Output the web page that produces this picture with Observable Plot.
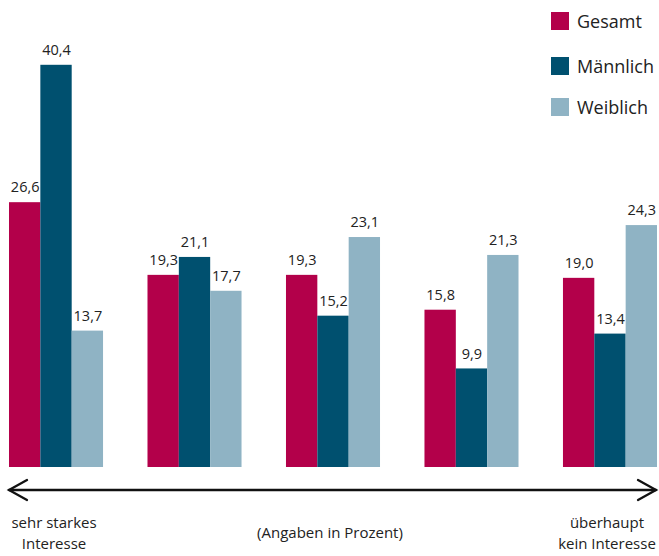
<!DOCTYPE html>
<html><head><meta charset="utf-8">
<script src="https://cdn.jsdelivr.net/npm/d3@7"></script>
<script src="https://cdn.jsdelivr.net/npm/@observablehq/plot@0.6"></script>
<style>
body{margin:0;background:#fff;font-family:"Open Sans","Noto Sans",sans-serif;color:#222}
#wrap{position:relative;width:659px;height:556px;overflow:hidden}
#chart{position:absolute;left:0;top:0}
.lg{position:absolute;left:551px;display:flex;align-items:center;font-size:18px;color:#222;line-height:22px}
.lg span.sw{display:inline-block;width:18px;height:18px;margin-right:8px}
.lab{position:absolute;font-size:15px;text-align:center;line-height:21px;color:#222;white-space:nowrap}
</style></head><body><div id="wrap"><div id="chart"></div></div>
<script>
const groups = ["1", "2", "3", "4", "5"];
const series = ["Gesamt", "Männlich", "Weiblich"];
const gesamt = [26.6, 19.3, 19.3, 15.8, 19.0];
const maennlich = [40.4, 21.1, 15.2, 9.9, 13.4];
const weiblich = [13.7, 17.7, 23.1, 21.3, 24.3];
const colors = ["#b3004a", "#00506f", "#8fb3c4"];
const leftLabel = ["sehr starkes", "Interesse"];
const rightLabel = ["überhaupt", "kein Interesse"];
const midLabel = "(Angaben in Prozent)";

const values = [gesamt, maennlich, weiblich];
const data = [];
groups.forEach((g, i) => series.forEach((s, j) => data.push({group: g, series: s, value: values[j][i]})));
const fmt = v => d3.format(".1f")(v).replace(".", ",");

const chart = Plot.plot({
  width: 659,
  height: 470,
  marginLeft: 9,
  marginRight: 2,
  marginTop: 19,
  marginBottom: 3,
  style: {fontFamily: '"Open Sans","Noto Sans",sans-serif', fontSize: "14px", color: "#222", background: "transparent"},
  fx: {domain: groups, axis: null, paddingInner: 0.321, paddingOuter: 0, round: false},
  x: {domain: series, axis: null, padding: 0, round: false},
  y: {domain: [0, 45], axis: null},
  color: {domain: series, range: colors},
  marks: [
    Plot.barY(data, {fx: "group", x: "series", y: "value", fill: "series", insetLeft: 0, insetRight: 0}),
    Plot.text(data, {fx: "group", x: "series", y: "value", text: d => fmt(d.value), dy: -15, fill: "#222", fontSize: 14.5})
  ]
});
const wrap = document.getElementById("wrap");
document.getElementById("chart").appendChild(chart);

// legend
const legendTops = [10, 55, 96];
series.forEach((s, j) => {
  const el = document.createElement("div");
  el.className = "lg";
  el.style.top = legendTops[j] + "px";
  el.innerHTML = `<span class="sw" style="background:${colors[j]}"></span><span>${s}</span>`;
  wrap.appendChild(el);
});

// arrow
const ns = "http://www.w3.org/2000/svg";
const svg = document.createElementNS(ns, "svg");
svg.setAttribute("width", 659); svg.setAttribute("height", 40);
svg.style.position = "absolute"; svg.style.left = "0px"; svg.style.top = "472px";
svg.innerHTML = `<g fill="none" stroke="#111" stroke-width="2.3" stroke-linecap="round" stroke-linejoin="miter">
<path d="M9,18 H656"/><path d="M27,8 L9,18 L27,28"/><path d="M638,8 L656,18 L638,28"/></g>`;
wrap.appendChild(svg);

function addLabel(lines, cx, top) {
  const el = document.createElement("div");
  el.className = "lab";
  el.style.left = (cx - 100) + "px"; el.style.width = "200px"; el.style.top = top + "px";
  el.innerHTML = lines.join("<br>");
  wrap.appendChild(el);
}
addLabel(leftLabel, 54, 512);
addLabel(rightLabel, 607, 512);
addLabel([midLabel], 330, 522);
</script></body></html>
